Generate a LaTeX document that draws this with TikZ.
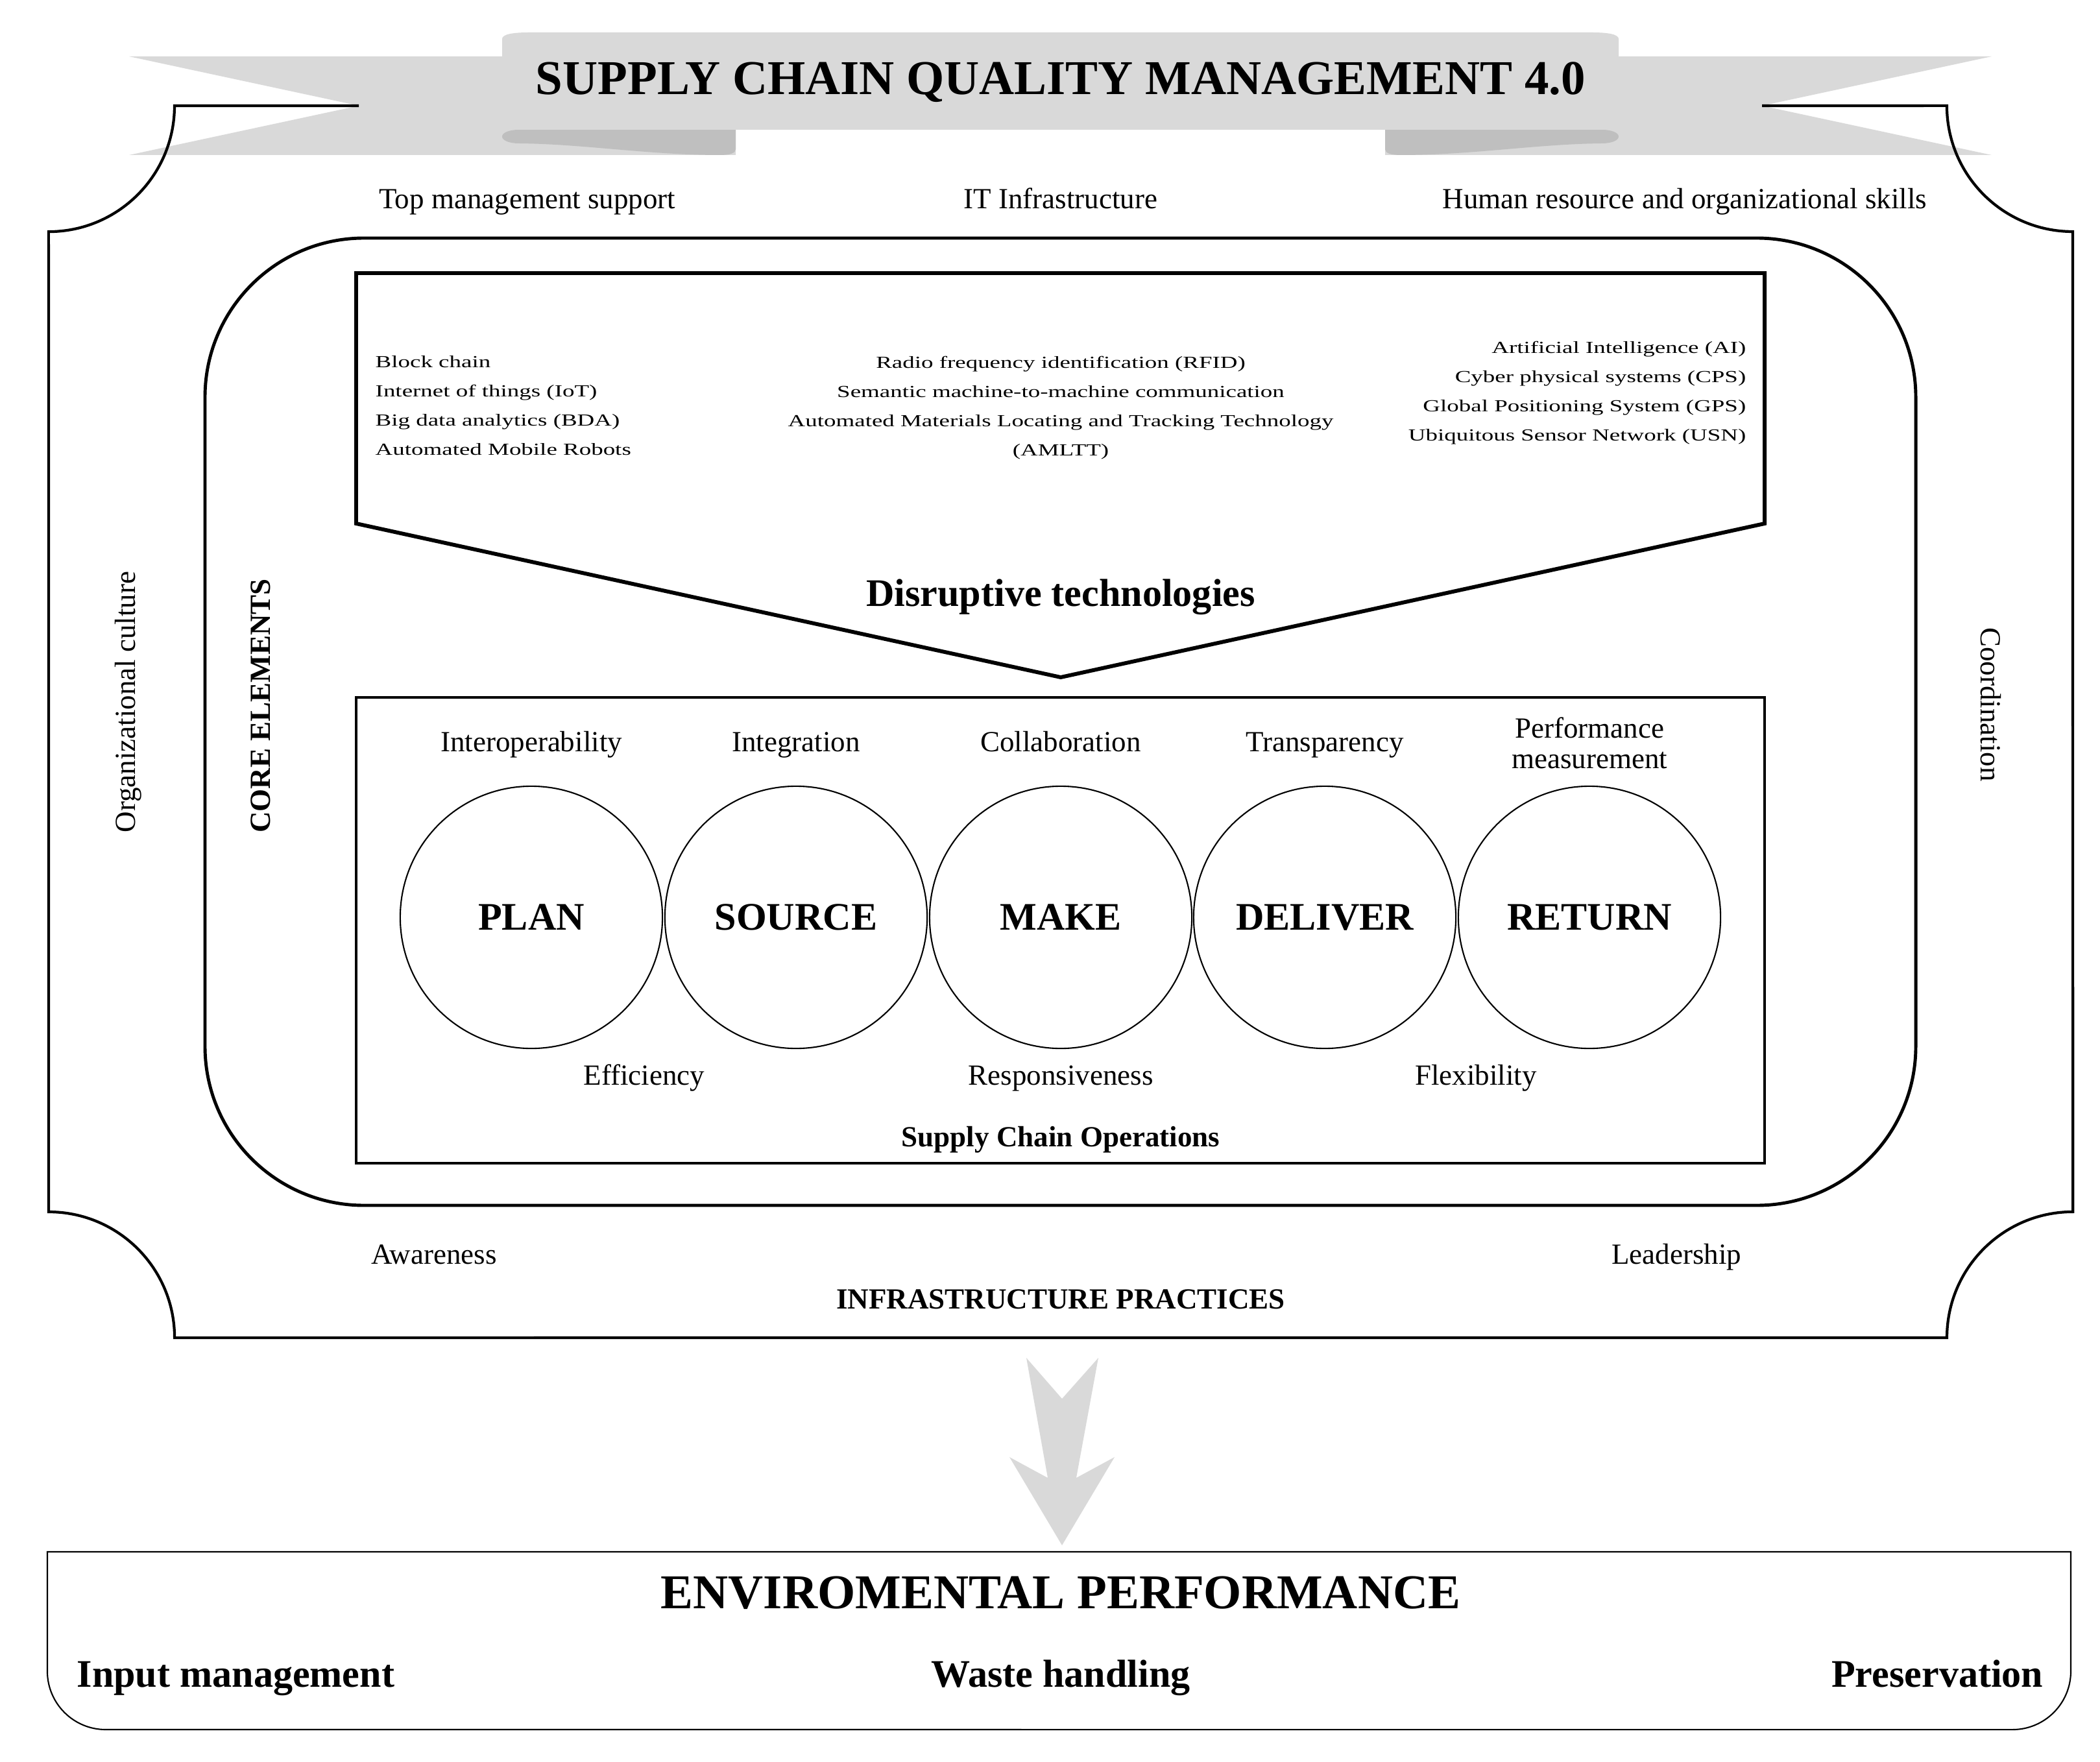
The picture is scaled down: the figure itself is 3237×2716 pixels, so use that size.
\documentclass[tikz,border=0pt]{standalone}
\usepackage{fontspec}
\setmainfont{Liberation Serif}
\newfontfamily\techfont{Liberation Serif}[FakeStretch=1.42]
\definecolor{ribbon}{HTML}{D9D9D9}
\definecolor{ribbonfold}{HTML}{BFBFBF}

\begin{document}
\begin{tikzpicture}[x=0.01cm,y=-0.01cm,every node/.style={inner sep=0pt},
  lbl/.style={anchor=base,font=\fontsize{12.8}{13.4}\selectfont},
  lblb/.style={anchor=base,font=\fontsize{12.8}{13.4}\selectfont\bfseries},
  side/.style={font=\fontsize{12.8}{13.4}\selectfont},
  mid/.style={anchor=base,font=\fontsize{17.1}{20}\selectfont\bfseries},
  big/.style={anchor=base,font=\fontsize{21.3}{25}\selectfont\bfseries},
  tech/.style={font=\techfont\fontsize{7.4}{12.8}\selectfont},
  stage/.style={circle,draw,line width=.6pt,minimum size=4.04cm,font=\fontsize{17.1}{20}\selectfont\bfseries}]
\useasboundingbox (0,0) rectangle (3237,2716);
% banner
\fill[ribbon] (199,87) -- (1134,87) -- (1134,239) -- (199,239) -- (553,163) -- cycle;
\fill[ribbon] (3070,87) -- (2135,87) -- (2135,239) -- (3070,239) -- (2716,163) -- cycle;
\fill[ribbonfold] (1134,200) -- (800,200) .. controls (784,200) and (774,205) .. (774,210.5) .. controls (774,216) and (784,221) .. (800,221) .. controls (900,222) and (1000,239) .. (1110,239) .. controls (1125,239) and (1134,236) .. (1134,230) -- cycle;
\fill[ribbonfold] (2135,200) -- (2469,200) .. controls (2485,200) and (2495,205) .. (2495,210.5) .. controls (2495,216) and (2485,221) .. (2469,221) .. controls (2369,222) and (2269,239) .. (2159,239) .. controls (2144,239) and (2135,236) .. (2135,230) -- cycle;
\fill[ribbon] (774,200) -- (774,60) .. controls (774,53) and (790,50) .. (815,50) -- (2454,50) .. controls (2479,50) and (2495,53) .. (2495,60) -- (2495,200) -- cycle;
% outer frame
\draw[line width=1.2pt] (553,163) -- (269,163) arc[start angle=0,end angle=-90,radius=1.94cm] -- (75,1868) arc[start angle=90,end angle=0,radius=1.94cm] -- (3001,2062) arc[start angle=180,end angle=90,radius=1.94cm] -- (3195,357) arc[start angle=270,end angle=180,radius=1.94cm] -- (2716,163);
\node[big] (title) at (1635,146) {SUPPLY CHAIN QUALITY MANAGEMENT 4.0};
\node[lbl] (topmgmt) at (813,322) {Top management support};
\node[lbl] (itinfra) at (1635,322) {IT Infrastructure};
\node[lbl] (hrskills) at (2597,322) {Human resource and organizational skills};
\node[side,rotate=90] (culture) at (198,1082) {Organizational culture};
\node[side,rotate=-90] (coord) at (3069,1086) {Coordination};
\node[lbl] (aware) at (669,1948) {Awareness};
\node[lbl] (lead) at (2584,1948) {Leadership};
\node[lblb] (infra) at (1635,2017) {INFRASTRUCTURE PRACTICES};
% core elements
\draw[line width=1.4pt,rounded corners=2.45cm] (316,367) rectangle (2953,1858);
\node[side,font=\fontsize{12.8}{13.4}\selectfont\bfseries,rotate=90] (core) at (402,1088) {CORE ELEMENTS};
\coordinate (dtl) at (549,421);
\coordinate (dtr) at (2720,421);
\coordinate (dbr) at (2720,807);
\coordinate (dtip) at (1635,1044);
\coordinate (dbl) at (549,807);
\draw[line width=1.7pt] (dtl)--(dtr)--(dbr)--(dtip)--(dbl)--cycle;
\node[tech,align=left,anchor=north west] (techl) at (578,548) {Block chain\\Internet of things (IoT)\\Big data analytics (BDA)\\Automated Mobile Robots};
\node[tech,align=center,anchor=north] (techc) at (1635,548) {Radio frequency identification (RFID)\\Semantic machine-to-machine communication\\Automated Materials Locating and Tracking Technology\\(AMLTT)};
\node[tech,align=right,anchor=north east] (techr) at (2692,525) {Artificial Intelligence (AI)\\Cyber physical systems (CPS)\\Global Positioning System (GPS)\\Ubiquitous Sensor Network (USN)};
\node[mid] (disrupt) at (1635,934) {Disruptive technologies};
% operations
\draw[line width=1.15pt] (549,1075) rectangle (2720,1793);
\node[stage] (plan) at (819,1414) {PLAN};
\node[stage] (source) at (1227,1414) {SOURCE};
\node[stage] (make) at (1635,1414) {MAKE};
\node[stage] (deliver) at (2042,1414) {DELIVER};
\node[stage] (return) at (2450,1414) {RETURN};
\node[lbl] (interop) at (819,1158) {Interoperability};
\node[lbl] (integ) at (1227,1158) {Integration};
\node[lbl] (collab) at (1635,1158) {Collaboration};
\node[lbl] (transp) at (2042,1158) {Transparency};
\node[side,align=center] (perf) at (2450,1145) {Performance\\measurement};
\node[lbl] (effic) at (993,1672) {Efficiency};
\node[lbl] (respons) at (1635,1672) {Responsiveness};
\node[lbl] (flex) at (2275,1672) {Flexibility};
\node[lblb] (scops) at (1635,1767) {Supply Chain Operations};
% arrow
\fill[ribbon] (1582,2093) -- (1637,2156) -- (1693,2093) -- (1659,2278) -- (1718,2246) -- (1637,2382) -- (1556,2246) -- (1615,2278) -- cycle;
% environmental performance
\draw[line width=.6pt] (73,2392) -- (3192,2392) -- (3192,2576) arc[start angle=0,end angle=-90,radius=0.9cm] -- (163,2666) arc[start angle=270,end angle=180,radius=0.9cm] -- cycle;
\node[big] (envperf) at (1635,2479) {ENVIROMENTAL PERFORMANCE};
\node[mid,anchor=base west] (input) at (118,2600) {Input management};
\node[mid] (waste) at (1635,2600) {Waste handling};
\node[mid,anchor=base east] (preserv) at (3150,2600) {Preservation};
\end{tikzpicture}
\end{document}
